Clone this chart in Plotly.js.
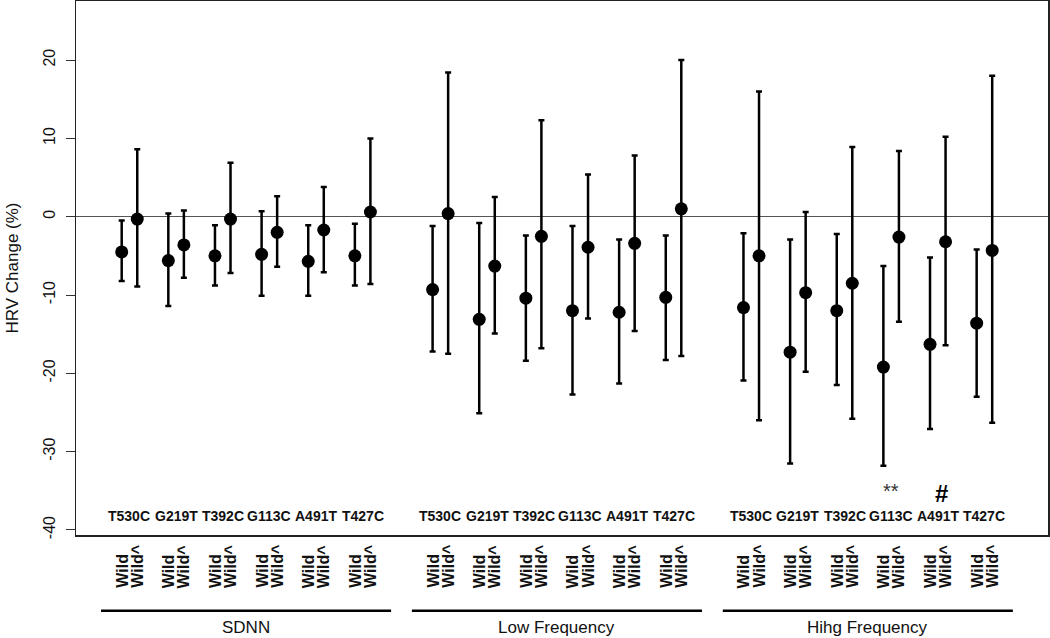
<!DOCTYPE html>
<html>
<head>
<meta charset="utf-8">
<script src="https://cdn.plot.ly/plotly-3.0.1.min.js"></script>
<style>
  html, body { margin: 0; padding: 0; background: #fff; }
  #chart { width: 1050px; height: 638px; }
</style>
</head>
<body>
<div id="chart"></div>
<script>
// ---- data ----
const groups = ["SDNN", "Low Frequency", "Hihg Frequency"];
const mutations = ["T530C", "G219T", "T392C", "G113C", "A491T", "T427C"];
const pairLabels = ["Wild", "Wild^"];

// first member of each pair ("Wild"), 18 values: SDNN x6, LF x6, HF x6
const wildMean  = [-4.5, -5.6, -5.0, -4.8, -5.7, -5.0,
                   -9.3, -13.1, -10.4, -12.0, -12.2, -10.3,
                   -11.6, -17.3, -12.0, -19.2, -16.3, -13.6];
const wildUpper = [-0.5, 0.4, -1.1, 0.7, -1.1, -0.9,
                   -1.2, -0.8, -2.4, -1.2, -2.9, -2.4,
                   -2.1, -2.9, -2.2, -6.3, -5.2, -4.2];
const wildLower = [-8.2, -11.4, -8.8, -10.1, -10.1, -8.8,
                   -17.2, -25.1, -18.4, -22.7, -21.3, -18.3,
                   -20.9, -31.5, -21.5, -31.8, -27.1, -23.0];

// second member of each pair ("Wild^")
const varMean   = [-0.3, -3.6, -0.3, -2.0, -1.7, 0.6,
                   0.4, -6.3, -2.5, -3.9, -3.4, 1.0,
                   -5.0, -9.7, -8.5, -2.6, -3.2, -4.3];
const varUpper  = [8.6, 0.8, 6.9, 2.6, 3.8, 10.0,
                   18.4, 2.5, 12.3, 5.4, 7.8, 20.0,
                   16.0, 0.6, 8.9, 8.4, 10.2, 18.0];
const varLower  = [-8.9, -7.8, -7.2, -6.4, -7.1, -8.6,
                   -17.5, -14.9, -16.8, -13.0, -14.6, -17.8,
                   -26.0, -19.8, -25.8, -13.4, -16.4, -26.3];

// significance marks (HF group): mutation index -> symbol
const sigMarks = [{group: 2, mut: 3, text: "**"}, {group: 2, mut: 4, text: "#"}];

// ---- layout helpers ----
const GROUP_STEP = 20, PAIR_STEP = 3;
function xOf(g, p, m) { return g * GROUP_STEP + p * PAIR_STEP + m; }

const xw = [], xv = [];
groups.forEach((g, gi) => mutations.forEach((mu, pi) => {
  xw.push(xOf(gi, pi, 0));
  xv.push(xOf(gi, pi, 1));
}));

function errTrace(x, mean, up, lo) {
  return {
    type: "scatter", mode: "markers", x: x, y: mean,
    marker: {color: "#000", size: 13, symbol: "circle"},
    error_y: {
      type: "data", symmetric: false,
      array: mean.map((m, i) => up[i] - m),
      arrayminus: mean.map((m, i) => m - lo[i]),
      color: "#000", thickness: 2.5, width: 3
    },
    showlegend: false, hoverinfo: "x+y"
  };
}

const traces = [errTrace(xw, wildMean, wildUpper, wildLower),
                errTrace(xv, varMean, varUpper, varLower)];

const FONT = "Liberation Sans, Arial, sans-serif";
const annotations = [];
const shapes = [];

groups.forEach((g, gi) => {
  mutations.forEach((mu, pi) => {
    // mutation label inside plot
    annotations.push({
      x: xOf(gi, pi, 0.5), y: -38.2, xref: "x", yref: "y",
      text: "<b>" + mu + "</b>", showarrow: false,
      font: {family: FONT, size: 14, color: "#111"},
      xanchor: "center", yanchor: "middle"
    });
    // rotated pair labels under axis
    pairLabels.forEach((pl, m) => {
      annotations.push({
        x: xOf(gi, pi, m), y: -0.103, xref: "x", yref: "paper",
        text: "<b>" + pl + "</b>", showarrow: false, textangle: -90,
        font: {family: FONT, size: 16, color: "#111"},
        xanchor: "center", yanchor: "bottom"
      });
    });
  });
  const cx = xOf(gi, (mutations.length - 1) / 2, 0.5);
  shapes.push({
    type: "line", xref: "x", yref: "paper",
    x0: cx - 9.33, x1: cx + 9.33, y0: -0.1418, y1: -0.1418,
    line: {color: "#000", width: 2.5}
  });
  annotations.push({
    x: cx, y: -0.174, xref: "x", yref: "paper",
    text: g, showarrow: false,
    font: {family: FONT, size: 17, color: "#111"},
    xanchor: "center", yanchor: "middle"
  });
});

sigMarks.forEach(s => {
  const isHash = s.text === "#";
  annotations.push({
    x: xOf(s.group, s.mut, 0.5) + (isHash ? 0.25 : 0), y: isHash ? -35.3 : -35.0, xref: "x", yref: "y",
    text: isHash ? "<b>#</b>" : s.text, showarrow: false,
    font: {family: FONT, size: isHash ? 24 : 20, color: isHash ? "#000" : "#333"},
    xanchor: "center", yanchor: "middle"
  });
});

const layout = {
  width: 1050, height: 638,
  margin: {l: 76, r: 2, t: 1, b: 103, pad: 0},
  paper_bgcolor: "#fff", plot_bgcolor: "#fff",
  font: {family: FONT, color: "#111"},
  showlegend: false,
  xaxis: {
    range: [-2.94, 59.59], showgrid: false, zeroline: false,
    showticklabels: false, ticks: "",
    showline: true, mirror: true, linecolor: "#222", linewidth: 1.5
  },
  yaxis: {
    range: [-40.64, 27.54], showgrid: false,
    zeroline: true, zerolinecolor: "#555", zerolinewidth: 1.2,
    tickvals: [-40, -30, -20, -10, 0, 10, 20],
    ticktext: ["-40", "-30", "-20", "-10", "0", "10", "20"],
    tickangle: -90, ticks: "outside", ticklen: 9, tickwidth: 1, tickcolor: "#333",
    tickfont: {family: FONT, size: 16, color: "#111"},
    ticklabelstandoff: 4,
    showline: true, mirror: true, linecolor: "#222", linewidth: 1.5,
    title: {text: "HRV Change (%)", font: {family: FONT, size: 17, color: "#111"}, standoff: 18},
    automargin: false
  },
  annotations: annotations,
  shapes: shapes
};

Plotly.newPlot("chart", traces, layout, {displayModeBar: false, staticPlot: true});
</script>
</body>
</html>
